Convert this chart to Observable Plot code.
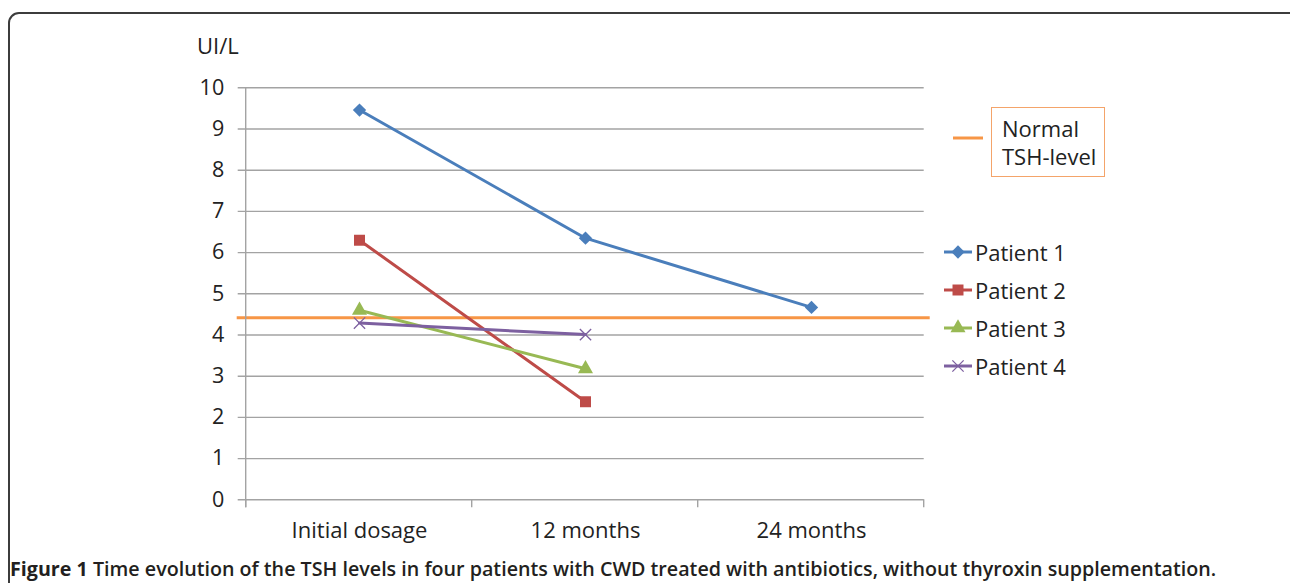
<!DOCTYPE html>
<html>
<head>
<meta charset="utf-8">
<script src="https://cdn.jsdelivr.net/npm/d3@7"></script>
<script src="https://cdn.jsdelivr.net/npm/@observablehq/plot@0.6"></script>
<style>
  html, body { margin: 0; padding: 0; background: #fff; overflow: hidden; }
  #wrap { position: relative; width: 1290px; height: 583px; }
  #frame { position: absolute; left: 8px; top: 12px; width: 1300px; height: 620px;
           border: 2px solid #3c3c3c; border-radius: 11px; box-sizing: border-box; }
  #chart { position: absolute; left: 0; top: 0; }
  .lbl { position: absolute; font-family: "Open Sans", sans-serif; font-size: 22px; color: #222; white-space: nowrap; line-height: 26px; }
  #caption { position: absolute; left: 10px; top: 555px; font-family: "Open Sans", sans-serif;
             font-size: 19.7px; font-weight: 600; color: #231f20; white-space: nowrap; line-height: 28px; }
  #caption b { font-weight: 700; }
  #normalBox { position: absolute; left: 991px; top: 107px; width: 114px; height: 70px;
               border: 1px solid #f4a46a; box-sizing: border-box; }
</style>
</head>
<body>
<div id="wrap">
  <div id="frame"></div>
  <div id="chart"></div>
  <div class="lbl" style="left:197px; top:32px;">UI/L</div>
  <div id="legend"></div>
  <div id="caption"><b>Figure 1</b> Time evolution of the TSH levels in four patients with CWD treated with antibiotics, without thyroxin supplementation.</div>
</div>
<script>
const categories = ["Initial dosage", "12 months", "24 months"];
const patients = ["Patient 1", "Patient 2", "Patient 3", "Patient 4"];
const patient1 = [9.46, 6.35, 4.67];
const patient2 = [6.3, 2.38];
const patient3 = [4.6, 3.18];
const patient4 = [4.29, 4.01];
const normalTSH = 4.42;
const yTicks = [0, 1, 2, 3, 4, 5, 6, 7, 8, 9, 10];
const colors = ["#4a7ebb", "#be4b48", "#98b954", "#7d60a0"];
const symbols = ["diamond2", "square", "triangle", "times"];
const symbolR = [6, 6.2, 5.6, 5.2];
const normalColor = "#f79646";

const series = [patient1, patient2, patient3, patient4];
const rows = [];
series.forEach((vals, i) => vals.forEach((v, j) => rows.push({patient: patients[i], time: categories[j], value: v})));

const W = 1290, H = 583;
const mL = 245.7, mR = W - 923.7, mT = 87.3, mB = H - 499.3;
const grid = "#a3a3a3";
const font = "'Open Sans', sans-serif";

const bandX = d3.scaleBand().domain(categories).range([mL, W - mR]);
const boundaries = [mL, ...categories.map(c => bandX(c) + bandX.bandwidth())];

const dotMarks = patients.map((p, i) => {
  const data = rows.filter(d => d.patient === p);
  return i === 3
    ? Plot.dot(data, {x: "time", y: "value", stroke: colors[i], symbol: symbols[i], r: symbolR[i], strokeWidth: 1.3})
    : Plot.dot(data, {x: "time", y: "value", fill: colors[i], stroke: "none", symbol: symbols[i], r: symbolR[i]});
});

const plot = Plot.plot({
  width: W, height: H,
  marginLeft: mL, marginRight: mR, marginTop: mT, marginBottom: mB,
  style: {fontFamily: font, fontSize: "22px", color: "#222", background: "transparent", overflow: "visible"},
  x: {type: "point", domain: categories, padding: 0.5, axis: null},
  y: {domain: [0, 10], axis: null},
  color: {domain: patients, range: colors},
  marks: [
    Plot.ruleY(yTicks, {stroke: grid, strokeWidth: 1.4, insetLeft: -8}),
    Plot.text(yTicks, {y: d => d, frameAnchor: "left", dx: -22, textAnchor: "end", text: d => String(d), fontSize: 21.5, fill: "#222"}),
    Plot.text(categories, {x: d => d, frameAnchor: "bottom", dy: 38, text: d => d, fontSize: 22, fill: "#222"}),
    Plot.ruleY([normalTSH], {stroke: normalColor, strokeWidth: 3, insetLeft: -9, insetRight: -6}),
    Plot.line(rows, {x: "time", y: "value", z: "patient", stroke: "patient", strokeWidth: 3}),
    ...dotMarks
  ]
});
document.getElementById("chart").appendChild(plot);

// left axis line and x ticks at band boundaries (positions from scales)
const svg = d3.select(plot);
const ys = plot.scale("y");
const y0 = ys.apply(0), y10 = ys.apply(10);
svg.append("line").attr("x1", mL).attr("x2", mL).attr("y1", y10).attr("y2", y0 + 8)
  .attr("stroke", grid).attr("stroke-width", 1.4);
svg.append("g").selectAll("line").data(boundaries).join("line")
  .attr("x1", d => d).attr("x2", d => d)
  .attr("y1", y0).attr("y2", y0 + 8)
  .attr("stroke", grid).attr("stroke-width", 1.4);

// Legend
const legend = d3.select("#legend");
const legY0 = 252, legStep = 38;
const lsvg = legend.append("svg").style("position", "absolute").style("left", "0px").style("top", "0px")
  .attr("width", W).attr("height", H).style("pointer-events", "none");
lsvg.append("line").attr("x1", 953).attr("x2", 983).attr("y1", 138).attr("y2", 138)
  .attr("stroke", normalColor).attr("stroke-width", 3);
const legSyms = [d3.symbolDiamond2, d3.symbolSquare, d3.symbolTriangle, d3.symbolTimes];
patients.forEach((p, i) => {
  const cy = legY0 + i * legStep;
  lsvg.append("line").attr("x1", 944).attr("x2", 972).attr("y1", cy).attr("y2", cy)
    .attr("stroke", colors[i]).attr("stroke-width", 3);
  const sym = d3.symbol().type(legSyms[i]).size(Math.PI * symbolR[i] * symbolR[i]);
  const path = lsvg.append("path").attr("d", sym()).attr("transform", `translate(958,${cy})`);
  if (i === 3) path.attr("fill", "none").attr("stroke", colors[i]).attr("stroke-width", 1.3);
  else path.attr("fill", colors[i]);
  legend.append("div").attr("class", "lbl").style("left", "975px").style("top", (cy - 13) + "px").text(p);
});
legend.append("div").attr("id", "normalBox");
legend.append("div").attr("class", "lbl").style("left", "1002px").style("top", "115px").text("Normal");
legend.append("div").attr("class", "lbl").style("left", "1002px").style("top", "143px").text("TSH-level");
</script>
</body>
</html>
